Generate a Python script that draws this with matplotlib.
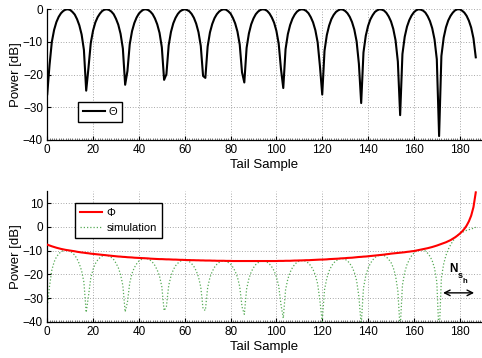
import matplotlib
matplotlib.use("Agg")
import matplotlib.pyplot as plt
from matplotlib.ticker import MultipleLocator

plt.rcParams['font.family'] = ['Liberation Sans', 'DejaVu Sans']

# tail samples 0..187
samples = list(range(188))

theta = [
    -26.0, -17.1, -10.0, -6.3, -3.9, -2.3, -1.2, -0.5, -0.1, 0.0,
    -0.2, -0.8, -1.6, -3.0, -4.9, -7.7, -12.4, -24.9, -17.9, -10.3,
    -6.5, -4.0, -2.4, -1.3, -0.5, -0.1, 0.0, -0.2, -0.7, -1.5,
    -2.9, -4.7, -7.5, -12.0, -23.1, -18.9, -10.7, -6.7, -4.2, -2.5,
    -1.3, -0.6, -0.1, 0.0, -0.2, -0.7, -1.5, -2.8, -4.6, -7.2,
    -11.6, -21.6, -19.9, -11.0, -6.9, -4.3, -2.6, -1.4, -0.6, -0.2,
    0.0, -0.2, -0.6, -1.4, -2.6, -4.4, -7.0, -11.2, -20.4, -21.0,
    -11.4, -7.1, -4.5, -2.7, -1.5, -0.7, -0.2, 0.0, -0.1, -0.6,
    -1.3, -2.6, -4.3, -6.8, -10.8, -19.3, -22.4, -11.8, -7.4, -4.6,
    -2.8, -1.5, -0.7, -0.2, 0.0, -0.1, -0.5, -1.3, -2.5, -4.1,
    -6.6, -10.5, -18.3, -24.1, -12.2, -7.6, -4.8, -2.9, -1.6, -0.7,
    -0.2, 0.0, -0.1, -0.5, -1.2, -2.4, -4.0, -6.4, -10.1, -17.4,
    -26.1, -12.7, -7.9, -5.0, -3.0, -1.7, -0.8, -0.3, 0.0, -0.1,
    -0.5, -1.2, -2.3, -3.9, -6.2, -9.8, -16.7, -28.7, -13.2, -8.1,
    -5.1, -3.1, -1.8, -0.8, -0.3, 0.0, -0.1, -0.4, -1.1, -2.2,
    -3.7, -6.0, -9.5, -16.0, -32.4, -13.7, -8.4, -5.3, -3.3, -1.9,
    -0.9, -0.3, 0.0, -0.1, -0.4, -1.0, -2.1, -3.6, -5.8, -9.2,
    -15.3, -38.8, -14.3, -8.7, -5.5, -3.4, -2.0, -1.0, -0.3, 0.0,
    0.0, -0.4, -1.0, -2.0, -3.5, -5.6, -8.9, -14.7,
]

phi = [
    -7.5, -7.85, -8.2, -8.5, -8.8, -9.05, -9.3, -9.5, -9.7, -9.85,
    -10.0, -10.15, -10.3, -10.5, -10.65, -10.8, -10.9, -11.05, -11.15, -11.3,
    -11.4, -11.5, -11.6, -11.7, -11.8, -11.9, -12.0, -12.1, -12.2, -12.3,
    -12.4, -12.5, -12.55, -12.65, -12.7, -12.8, -12.85, -12.9, -13.0, -13.05,
    -13.1, -13.15, -13.2, -13.25, -13.3, -13.4, -13.45, -13.5, -13.55, -13.6,
    -13.6, -13.65, -13.7, -13.7, -13.75, -13.8, -13.8, -13.85, -13.9, -13.9,
    -13.95, -14.0, -14.0, -14.05, -14.05, -14.1, -14.1, -14.15, -14.15, -14.2,
    -14.2, -14.2, -14.25, -14.25, -14.3, -14.3, -14.3, -14.3, -14.35, -14.35,
    -14.35, -14.4, -14.4, -14.4, -14.4, -14.4, -14.4, -14.4, -14.4, -14.4,
    -14.4, -14.4, -14.4, -14.4, -14.4, -14.4, -14.4, -14.4, -14.4, -14.4,
    -14.4, -14.35, -14.35, -14.35, -14.3, -14.3, -14.3, -14.25, -14.2, -14.2,
    -14.15, -14.15, -14.1, -14.05, -14.05, -14.0, -13.95, -13.9, -13.85, -13.8,
    -13.8, -13.75, -13.7, -13.6, -13.55, -13.5, -13.45, -13.4, -13.3, -13.25,
    -13.2, -13.1, -13.05, -13.0, -12.9, -12.8, -12.7, -12.65, -12.55, -12.5,
    -12.4, -12.3, -12.2, -12.1, -12.0, -11.9, -11.8, -11.7, -11.55, -11.45,
    -11.3, -11.2, -11.1, -11.0, -10.9, -10.8, -10.7, -10.55, -10.45, -10.3,
    -10.2, -10.0, -9.8, -9.6, -9.4, -9.2, -9.0, -8.75, -8.5, -8.2,
    -7.9, -7.55, -7.2, -6.85, -6.5, -6.05, -5.6, -5.0, -4.4, -3.7,
    -2.9, -2.0, -0.9, 0.5, 2.3, 4.7, 8.3, 14.5,
]

simulation = [
    -33.5, -25.0, -18.2, -14.8, -12.7, -11.4, -10.5, -10.0, -9.8, -9.9,
    -10.2, -11.0, -11.9, -13.5, -15.6, -18.5, -23.3, -36.0, -29.1, -21.6,
    -17.9, -15.5, -14.0, -13.0, -12.3, -12.0, -12.0, -12.3, -12.9, -13.8,
    -15.3, -17.2, -20.1, -24.7, -35.8, -31.7, -23.6, -19.6, -17.2, -15.6,
    -14.4, -13.8, -13.3, -13.3, -13.5, -14.1, -15.0, -16.3, -18.2, -20.8,
    -25.2, -35.3, -33.6, -24.7, -20.7, -18.1, -16.4, -15.3, -14.5, -14.1,
    -14.0, -14.2, -14.6, -15.5, -16.7, -18.5, -21.1, -25.4, -34.6, -35.2,
    -25.6, -21.3, -18.8, -17.0, -15.8, -15.0, -14.5, -14.3, -14.5, -15.0,
    -15.7, -17.0, -18.7, -21.2, -25.2, -33.7, -36.8, -26.2, -21.8, -19.0,
    -17.2, -15.9, -15.1, -14.6, -14.4, -14.5, -14.9, -15.7, -16.9, -18.5,
    -21.0, -24.9, -32.7, -38.5, -26.5, -21.9, -19.1, -17.2, -15.8, -14.9,
    -14.4, -14.2, -14.2, -14.6, -15.3, -16.4, -18.0, -20.3, -24.0, -31.2,
    -39.9, -26.5, -21.6, -18.6, -16.6, -15.2, -14.3, -13.7, -13.3, -13.4,
    -13.7, -14.3, -15.4, -16.9, -19.1, -22.6, -29.4, -41.4, -25.8, -20.6,
    -17.5, -15.4, -14.0, -12.9, -12.3, -11.9, -11.9, -12.1, -12.7, -13.7,
    -15.0, -17.2, -20.6, -27.0, -43.3, -24.5, -19.1, -15.9, -13.8, -12.2,
    -11.1, -10.3, -9.8, -9.7, -9.8, -10.2, -11.1, -12.4, -14.3, -17.4,
    -23.2, -46.4, -21.5, -15.6, -12.0, -9.5, -7.6, -6.0, -4.7, -3.7,
    -2.9, -2.4, -1.9, -1.5, -1.2, -0.9, -0.6, -0.2,
]

xticks = [0, 20, 40, 60, 80, 100, 120, 140, 160, 180]

fig = plt.figure(figsize=(4.82, 3.58), dpi=100)
ax1 = fig.add_axes([0.098, 0.609, 0.900, 0.365])
ax2 = fig.add_axes([0.098, 0.101, 0.900, 0.365])


def style_axes(ax, ylim, yticks):
    ax.set_xlim(0, 189.3)
    ax.set_ylim(*ylim)
    ax.set_xticks(xticks)
    ax.set_yticks(yticks)
    ax.xaxis.set_minor_locator(MultipleLocator(1))
    ax.grid(True, which='major', linestyle=(0, (1, 2.2)), color='#8a8a8a', linewidth=0.6)
    ax.set_axisbelow(True)
    ax.spines['top'].set_visible(False)
    ax.spines['right'].set_visible(False)
    ax.spines['left'].set_linewidth(0.9)
    ax.spines['bottom'].set_linewidth(0.9)
    ax.tick_params(which='major', direction='in', length=3, width=0.8,
                   labelsize=8.5, pad=3)
    ax.tick_params(axis='x', which='minor', direction='in', length=1.3,
                   width=0.5, color='#444444')
    ax.set_xlabel('Tail Sample', fontsize=9.5, labelpad=2)
    ax.set_ylabel('Power [dB]', fontsize=9.5, labelpad=1)


ax1.plot(samples, theta, color='black', linewidth=1.5, label='Θ')
style_axes(ax1, (-40, 0), [-40, -30, -20, -10, 0])
leg1 = ax1.legend(loc='lower left', bbox_to_anchor=(0.071, 0.138), borderaxespad=0,
                  fancybox=False, edgecolor='black', framealpha=1, fontsize=8,
                  handlelength=2.0, handletextpad=0.3, borderpad=0.45)
leg1.get_frame().set_linewidth(1.0)

ax2.plot(samples, simulation, color='#55aa55', linestyle=(0, (1, 1.6)),
         linewidth=0.9, label='simulation', zorder=2)
ax2.plot(samples, phi, color='red', linewidth=1.5, label='Φ', zorder=3)
style_axes(ax2, (-40, 15), [-40, -30, -20, -10, 0, 10])
handles, labels = ax2.get_legend_handles_labels()
leg2 = ax2.legend(handles[::-1], labels[::-1], loc='upper left', bbox_to_anchor=(0.064, 0.908),
                  borderaxespad=0, fancybox=False, edgecolor='black', framealpha=1,
                  fontsize=8, handlelength=2.0, handletextpad=0.4, borderpad=0.45,
                  labelspacing=0.4)
leg2.get_frame().set_linewidth(1.0)

ax2.annotate('', xy=(171.5, -27.8), xytext=(187.5, -27.8),
             arrowprops=dict(arrowstyle='<->', color='black', lw=1.0))
ax2.text(175.6, -17.9, 'N', fontsize=8.5, fontweight='bold', ha='left', va='center')
ax2.text(179.1, -20.6, 's', fontsize=6.5, fontweight='bold', ha='left', va='center')
ax2.text(181.2, -22.9, 'h', fontsize=5.5, fontweight='bold', ha='left', va='center')

fig.savefig('out.png', dpi=100)
